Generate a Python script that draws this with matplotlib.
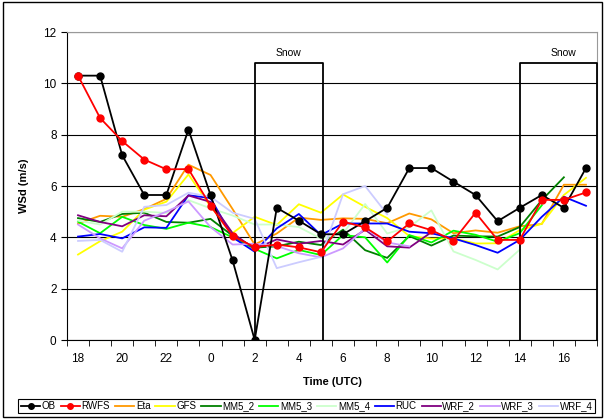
import numpy as np
import matplotlib.pyplot as plt
from matplotlib.patches import Rectangle

plt.rcParams['font.family'] = ['Liberation Sans', 'DejaVu Sans']

nan = np.nan
hours = [18, 19, 20, 21, 22, 23, 0, 1, 2, 3, 4, 5, 6, 7, 8, 9, 10, 11, 12, 13, 14, 15, 16, 17]

OB = [10.3, 10.3, 7.2, 5.65, 5.65, 8.2, 5.65, 3.1, 0.0, 5.15, 4.65, 4.12,
      4.12, 4.63, 5.15, 6.7, 6.7, 6.17, 5.65, 4.63, 5.15, 5.65, 5.15, 6.7]
RWFS = [10.3, 8.65, 7.75, 7.03, 6.65, 6.66, 5.23, 4.05, 3.62, 3.72, 3.61, 3.42,
        4.61, 4.39, 3.84, 4.54, 4.28, 3.87, 4.96, 3.9, 3.9, 5.46, 5.46, 5.75]
Eta = [4.54, 4.84, 4.8, 5.1, 5.5, 6.83, 6.43, 5.1, 3.72, 4.15, 4.77, 4.68,
       4.74, 4.72, 4.55, 4.93, 4.7, 4.16, 4.27, 4.18, 4.43, 4.52, 6.05, 6.05]
GFS = [3.33, 3.85, 4.22, 5.08, 5.39, 6.45, 5.2, 4.17, 4.8, 4.48, 5.29, 4.96,
       5.67, 5.19, 4.75, 4.05, 3.95, 3.96, 3.76, 3.77, 4.28, 4.53, 5.65, 6.32]
MM5_2 = [4.75, 4.6, 4.91, 4.96, 4.6, 4.57, 4.72, 4.06, 3.6, 3.65, 3.83, 3.7,
         4.3, 3.5, 3.2, 4.05, 3.68, 4.07, 4.04, 4.03, 4.4, 5.45, 6.34, nan]
MM5_3 = [4.61, 4.16, 4.8, 4.48, 4.33, 4.57, 4.4, 4.0, 3.55, 3.18, 3.51, 3.31,
         4.09, 4.0, 3.02, 4.09, 3.8, 4.26, 4.1, 3.83, 4.16, 5.25, nan, nan]
MM5_4 = [4.65, 4.5, 5.0, 5.0, 4.95, 5.45, 5.13, 4.85, 4.5, 4.5, 4.4, 3.95,
         4.15, 5.3, 4.15, 4.4, 5.05, 3.45, 3.12, 2.75, 3.52, nan, nan, nan]
RUC = [4.03, 4.13, 3.96, 4.39, 4.37, 5.64, 5.53, 4.0, 3.44, 4.35, 4.91, 4.09,
       4.54, 4.54, 4.54, 4.22, 4.16, 3.96, 3.7, 3.4, 3.9, 4.8, 5.58, 5.23]
WRF_2 = [4.86, 4.6, 4.43, 4.86, 4.82, 5.63, 5.38, 4.16, 3.55, 3.92, 3.75, 3.86,
         3.72, 4.3, 3.65, 3.6, 4.2, nan, nan, nan, nan, nan, nan, nan]
WRF_3 = [4.5, 3.96, 3.57, 4.65, 5.0, 5.4, 4.4, 3.72, 3.75, 3.66, 3.38, 3.22,
         3.57, 4.35, 3.8, 3.65, nan, nan, nan, nan, nan, nan, nan, nan]
WRF_4 = [3.86, 3.9, 3.44, 5.19, 5.26, 5.74, 5.58, 4.96, 4.72, 2.8, 3.03, 3.24,
         5.68, 6.0, 4.9, nan, nan, nan, nan, nan, nan, nan, nan, nan]

# snow periods (start, end) in category positions, and box height
snow = [(8, 11.1), (20, 23.5)]
snow_top = 10.8

series = [
    ('OB', OB, '#000000', 'o'),
    ('RWFS', RWFS, '#ff0000', 'o'),
    ('Eta', Eta, '#ff9900', None),
    ('GFS', GFS, '#ffff00', None),
    ('MM5_2', MM5_2, '#008000', None),
    ('MM5_3', MM5_3, '#00ff00', None),
    ('MM5_4', MM5_4, '#ccffcc', None),
    ('RUC', RUC, '#0000ff', None),
    ('WRF_2', WRF_2, '#800080', None),
    ('WRF_3', WRF_3, '#cc99ff', None),
    ('WRF_4', WRF_4, '#ccccff', None),
]

fig = plt.figure(figsize=(6.05, 4.19), dpi=100)
ax = fig.add_axes([0.1107, 0.1885, 0.8761, 0.7351])

x = np.arange(len(hours))
for i, (name, vals, col, mk) in enumerate(series):
    z = 5 if i < 2 else 3
    ax.plot(x, vals, color=col, lw=1.3, marker=mk, markersize=5, label=name, zorder=z)

for s0, s1 in snow:
    ax.plot([s0, s0, s1, s1], [0, snow_top, snow_top, 0], color='black', lw=1.3, zorder=4, clip_on=False)
    xc = (s0 + s1) / 2 if s1 < 23 else s0 + 2
    ax.text(xc, snow_top + 0.2, 'Snow', ha='center', va='bottom', fontsize=7.5)

ax.set_xlim(-0.5, 23.5)
ax.set_ylim(0, 12)
ax.set_yticks(range(0, 13, 2))
ax.yaxis.grid(True, color='black', lw=0.8)
ax.set_axisbelow(True)

ax.set_xticks(x[::2])
ax.set_xticklabels([str(h) for h in hours[::2]])
ax.set_xticks(np.arange(-0.5, 24, 1), minor=True)
ax.tick_params(axis='x', which='major', length=0, labelsize=8.5, pad=9)
ax.tick_params(axis='x', which='minor', length=4, direction='out')
ax.tick_params(axis='y', length=4, direction='out', labelsize=8.5)

for sp in ['top', 'right']:
    ax.spines[sp].set_color('#999999')
ax.spines['left'].set_color('black')
ax.spines['bottom'].set_color('black')

ax.set_xlabel('Time (UTC)', fontsize=8, fontweight='bold', labelpad=9)
ax.set_ylabel('WSd (m/s)', fontsize=8, fontweight='bold', labelpad=10)

leg = fig.legend(loc='center', bbox_to_anchor=(0.507, 0.031), ncol=11, fontsize=7,
                 handlelength=2.0, handletextpad=0.15, columnspacing=0.5, borderpad=0.25,
                 fancybox=False, edgecolor='black', framealpha=1)
leg.get_frame().set_linewidth(0.8)
for h in leg.legend_handles:
    h.set_markersize(4)

fig.patches.append(Rectangle((0.005, 0.005), 0.99, 0.99, transform=fig.transFigure,
                             fill=False, edgecolor='black', lw=1))

fig.savefig('out.png', dpi=100)
